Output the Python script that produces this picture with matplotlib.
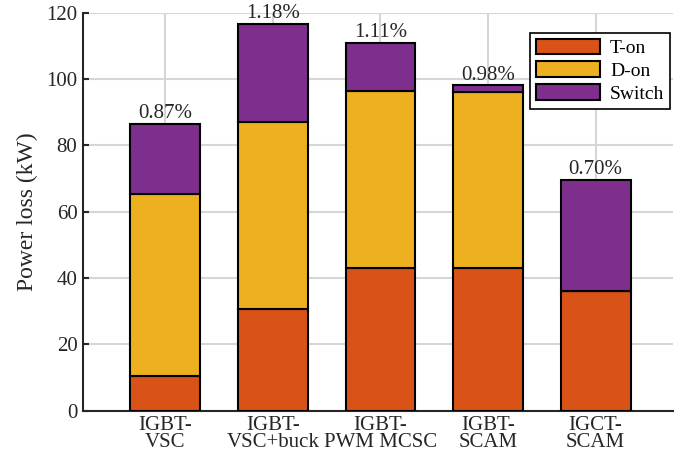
import matplotlib.pyplot as plt
import matplotlib
import numpy as np

matplotlib.rcParams["font.family"] = ["Liberation Serif", "DejaVu Serif"]
matplotlib.rcParams.update({'font.size': 15})

# converter topologies and their loss breakdown (kW)
topologies = ["IGBT-\nVSC", "IGBT-\nVSC+buck", "IGBT-\nPWM MCSC", "IGBT-\nSCAM", "IGCT-\nSCAM"]
t_on = [10.4, 30.6, 43.0, 43.0, 36.1]
d_on = [55.0, 56.5, 53.4, 53.2, 0.0]
switch = [21.1, 29.6, 14.5, 2.0, 33.5]
efficiency_loss = ["0.87%", "1.18%", "1.11%", "0.98%", "0.70%"]

colors = ["#D95319", "#EDB120", "#7E2F8E"]
names = ["T-on", "D-on", "Switch"]

fig = plt.figure(figsize=(6.89, 4.53), dpi=100)
ax = fig.add_axes([83/689, 1 - 410.5/453, (673 - 83)/689, (410.5 - 13)/453])

x = np.arange(1, len(topologies) + 1)
bottom = np.zeros(len(x))
for vals, c, n in zip([t_on, d_on, switch], colors, names):
    ax.bar(x, vals, width=0.65, bottom=bottom, color=c, edgecolor="black",
           linewidth=1.5, label=n, zorder=3)
    bottom += np.array(vals)

for xi, total, txt in zip(x, bottom, efficiency_loss):
    ax.text(xi, total + 0.2, txt, ha="center", va="bottom", fontsize=15, color="#262626")

ax.set_xlim(0.234, 5.72)
ax.set_ylim(0, 120)
ax.set_xticks(x)
ax.set_xticklabels(topologies, linespacing=0.88)
ax.set_yticks(np.arange(0, 121, 20))
ax.set_ylabel("Power loss (kW)", fontsize=17, color="#262626", labelpad=6)

ax.grid(True, color="#d6d6d6", linewidth=1.5, zorder=0)
ax.set_axisbelow(True)
for s in ["top", "right"]:
    ax.spines[s].set_visible(False)
for s in ["left", "bottom"]:
    ax.spines[s].set_linewidth(1.5)
    ax.spines[s].set_color("#262626")
ax.tick_params(axis="y", direction="in", length=4, width=1.5, colors="#262626", pad=4)
ax.tick_params(axis="x", length=0, colors="#262626", pad=4)

leg = ax.legend(loc="upper right", bbox_to_anchor=(0.9985, 0.955), fancybox=False,
                edgecolor="black", framealpha=1, fontsize=14, handlelength=3.3,
                handleheight=0.85, labelspacing=0.22, borderpad=0.3, handletextpad=0.5,
                borderaxespad=0.1)
leg.get_frame().set_linewidth(1.2)

plt.savefig("out.png", dpi=100)
